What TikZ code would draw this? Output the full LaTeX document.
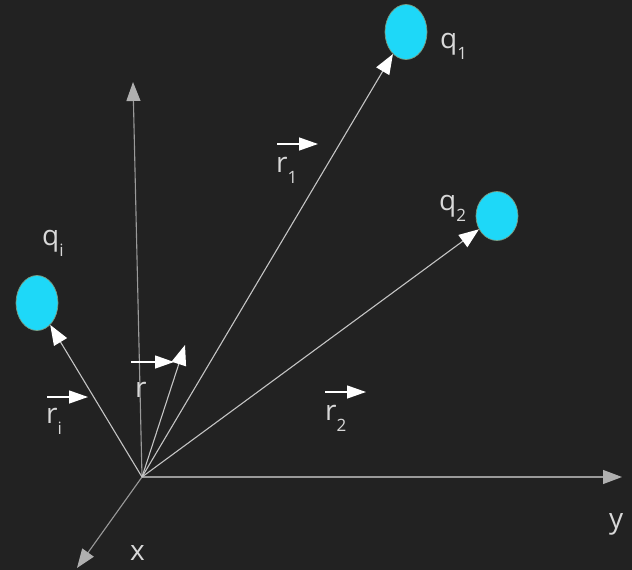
\documentclass[tikz,border=0pt]{standalone}
\usepackage{fontspec}
\setmainfont{Open Sans}
\usetikzlibrary{arrows.meta,shapes.geometric}
\definecolor{bg}{HTML}{222222}
\definecolor{chargefill}{HTML}{1ED8F8}
\definecolor{chargeedge}{HTML}{7A9A80}
\definecolor{axisc}{HTML}{9A9A9A}
\definecolor{axishead}{HTML}{B0B0B0}
\definecolor{vecc}{HTML}{C4C4C4}
\definecolor{txt}{HTML}{D8D8D8}
\newcommand\subtxt[1]{\raisebox{-11pt}{\fontsize{17}{17}\selectfont #1}}
\tikzset{
  charge/.style={ellipse, fill=chargefill, draw=chargeedge, line width=0.7pt,
    minimum width=42pt, minimum height=55pt, inner sep=0pt},
  vec/.style={draw=vecc, line width=1.1pt, -{Triangle[length=20pt,width=15pt,color=white]}},
  axisline/.style={draw=axisc, line width=1.1pt, -{Triangle[length=19pt,width=14pt,color=axishead]}},
  labvec/.style={draw=white, line width=1.3pt, -{Triangle[length=19pt,width=13pt,color=white]}},
  lab/.style={text=txt, font=\fontsize{28}{28}\selectfont, inner sep=0pt, anchor=base west}
}
\begin{document}
\begin{tikzpicture}[x=1pt,y=-1pt]
\fill[bg] (0,0) rectangle (632,570);
\useasboundingbox (0,0) rectangle (632,570);
% origin and axis ends
\coordinate (O) at (142,477);
\coordinate (zt) at (133,82);
\coordinate (yt) at (622,477);
\coordinate (xt) at (77,568);
\coordinate (rt) at (185,345);
% charges
\node[charge] (q1) at (406,32) {};
\node[charge, minimum height=49pt] (q2) at (497,216) {};
\node[charge] (qi) at (37,303) {};
% axes
\draw[axisline] (O) -- (zt);
\draw[axisline] (O) -- (yt);
\draw[axisline] (O) -- (xt);
% vectors
\draw[vec] (O) -- (q1);
\draw[vec] (O) -- (q2);
\draw[vec] (O) -- (qi);
\draw[vec] (O) -- (rt);
% labels
\node[lab] (lq1) at (440,48) {q\subtxt{1}};
\node[lab] (lq2) at (439,210) {q\subtxt{2}};
\node[lab] (lqi) at (42,245) {q\subtxt{i}};
\node[lab] (lr1) at (276,172) {r\subtxt{1}};
\node[lab] (lr) at (135,397) {r};
\node[lab] (lri) at (46,423) {r\subtxt{i}};
\node[lab] (lr2) at (325,420) {r\subtxt{2}};
\node[lab] (lx) at (130,560) {x};
\node[lab] (ly) at (609,528) {y};
% vector marks over labels
\coordinate (a1s) at (277,144); \coordinate (a1e) at (318,144);
\coordinate (as) at (131,362);  \coordinate (ae) at (174,362);
\coordinate (ais) at (47,397);  \coordinate (aie) at (88,397);
\coordinate (a2s) at (325,392); \coordinate (a2e) at (366,392);
\draw[labvec] (a1s) -- (a1e);
\draw[labvec] (as) -- (ae);
\draw[labvec] (ais) -- (aie);
\draw[labvec] (a2s) -- (a2e);
\end{tikzpicture}
\end{document}
